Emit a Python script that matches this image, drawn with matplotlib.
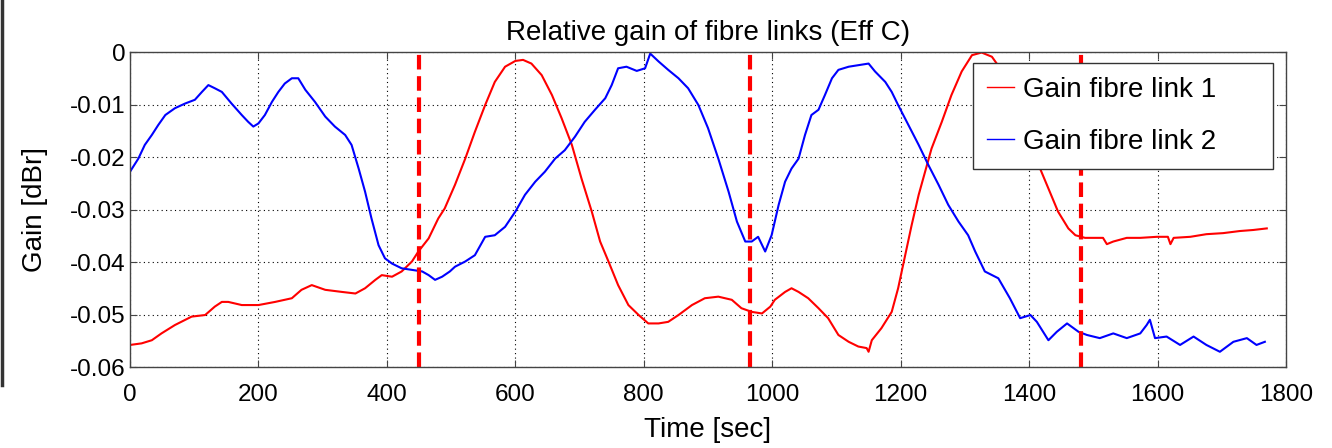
import matplotlib
matplotlib.use("Agg")
import matplotlib.pyplot as plt
from matplotlib.lines import Line2D

plt.rcParams["font.family"] = ["Liberation Sans", "DejaVu Sans"]

# time [sec] and gain [dBr]
t_link1 = [0, 18, 34, 49, 70, 96, 117, 132, 143, 153, 174, 200, 226, 252, 267, 283,
           304, 330, 351, 366, 382, 392, 408, 423, 439, 449, 465, 480, 490, 506, 522,
           537, 553, 568, 584, 600, 612, 625, 641, 657, 672, 688, 703, 719, 732, 745,
           760, 776, 792, 807, 823, 838, 854, 875, 895, 916, 937, 952, 968, 984, 997,
           1004, 1020, 1030, 1041, 1056, 1072, 1087, 1103, 1119, 1134, 1147, 1150,
           1155, 1170, 1186, 1196, 1207, 1217, 1228, 1238, 1248, 1264, 1279, 1295,
           1311, 1326, 1342, 1360, 1380, 1400, 1417, 1430, 1445, 1461, 1472, 1487,
           1503, 1515, 1521, 1531, 1552, 1573, 1599, 1616, 1620, 1625, 1651, 1676,
           1702, 1728, 1749, 1770]
g_link1 = [-0.0558, -0.0555, -0.0549, -0.0536, -0.0520, -0.0504, -0.0501, -0.0485,
           -0.0476, -0.0476, -0.0482, -0.0482, -0.0476, -0.0469, -0.0453, -0.0444,
           -0.0453, -0.0457, -0.0460, -0.0450, -0.0434, -0.0425, -0.0428, -0.0418,
           -0.0399, -0.0380, -0.0355, -0.0317, -0.0298, -0.0253, -0.0203, -0.0152,
           -0.0101, -0.0057, -0.0028, -0.0017, -0.0015, -0.0022, -0.0044, -0.0082,
           -0.0126, -0.0177, -0.0241, -0.0304, -0.0361, -0.0399, -0.0444, -0.0482,
           -0.0501, -0.0517, -0.0517, -0.0514, -0.0501, -0.0482, -0.0469, -0.0466,
           -0.0472, -0.0488, -0.0495, -0.0498, -0.0485, -0.0472, -0.0457, -0.0450,
           -0.0457, -0.0469, -0.0488, -0.0507, -0.0539, -0.0552, -0.0561, -0.0564,
           -0.0571, -0.0549, -0.0526, -0.0495, -0.0450, -0.0387, -0.0330, -0.0272,
           -0.0228, -0.0184, -0.0133, -0.0082, -0.0037, -0.0006, -0.0001, -0.0009,
           -0.0040, -0.0110, -0.0170, -0.0222, -0.0260, -0.0304, -0.0336, -0.0349,
           -0.0354, -0.0354, -0.0354, -0.0366, -0.0361, -0.0354, -0.0354, -0.0352,
           -0.0352, -0.0366, -0.0354, -0.0352, -0.0347, -0.0345, -0.0341, -0.0339,
           -0.0336]

t_link2 = [0, 13, 23, 34, 44, 55, 70, 86, 101, 112, 122, 132, 143, 158, 174, 184,
           192, 200, 210, 221, 231, 241, 252, 262, 273, 288, 304, 319, 335, 345, 356,
           366, 376, 387, 397, 408, 423, 439, 455, 465, 475, 486, 498, 506, 522, 537,
           553, 568, 584, 600, 615, 631, 646, 662, 677, 693, 708, 724, 740, 750, 760,
           773, 789, 802, 810, 823, 838, 854, 869, 885, 900, 916, 932, 945, 958, 968,
           978, 989, 999, 1010, 1020, 1030, 1041, 1051, 1061, 1072, 1082, 1093, 1103,
           1119, 1134, 1150, 1160, 1176, 1186, 1196, 1212, 1228, 1243, 1259, 1274,
           1290, 1305, 1316, 1331, 1352, 1370, 1386, 1402, 1412, 1430, 1443, 1459,
           1477, 1490, 1510, 1531, 1552, 1573, 1583, 1588, 1596, 1614, 1635, 1656,
           1676, 1697, 1718, 1739, 1754, 1767]
g_link2 = [-0.0228, -0.0203, -0.0177, -0.0158, -0.0139, -0.0120, -0.0107, -0.0098,
           -0.0091, -0.0076, -0.0063, -0.0069, -0.0076, -0.0098, -0.0120, -0.0133,
           -0.0142, -0.0136, -0.0120, -0.0095, -0.0076, -0.0060, -0.0050, -0.0050,
           -0.0072, -0.0095, -0.0123, -0.0142, -0.0158, -0.0177, -0.0222, -0.0266,
           -0.0317, -0.0368, -0.0393, -0.0403, -0.0412, -0.0415, -0.0418, -0.0425,
           -0.0434, -0.0428, -0.0418, -0.0409, -0.0399, -0.0387, -0.0352, -0.0349,
           -0.0333, -0.0304, -0.0272, -0.0247, -0.0228, -0.0203, -0.0187, -0.0161,
           -0.0133, -0.0110, -0.0088, -0.0063, -0.0031, -0.0028, -0.0036, -0.0031,
           -0.0003, -0.0018, -0.0034, -0.0050, -0.0069, -0.0101, -0.0145, -0.0203,
           -0.0266, -0.0323, -0.0361, -0.0361, -0.0352, -0.0380, -0.0349, -0.0291,
           -0.0247, -0.0222, -0.0203, -0.0158, -0.0120, -0.0110, -0.0082, -0.0050,
           -0.0034, -0.0028, -0.0025, -0.0022, -0.0037, -0.0057, -0.0076, -0.0101,
           -0.0139, -0.0177, -0.0215, -0.0253, -0.0291, -0.0323, -0.0349, -0.0380,
           -0.0418, -0.0431, -0.0469, -0.0507, -0.0501, -0.0514, -0.0549, -0.0533,
           -0.0517, -0.0533, -0.0539, -0.0545, -0.0536, -0.0545, -0.0536, -0.0520,
           -0.0510, -0.0545, -0.0542, -0.0558, -0.0542, -0.0558, -0.0571, -0.0552,
           -0.0545, -0.0558, -0.0552]

segment_marks = [450, 965, 1480]

fig = plt.figure(figsize=(13.32, 4.48), dpi=100)
ax = fig.add_axes([0.0976, 0.1808, 0.8679, 0.7031])

ax.plot(t_link1, g_link1, color="#ff0000", lw=1.5, label="Gain fibre link 1")
ax.plot(t_link2, g_link2, color="#0000ff", lw=1.5, label="Gain fibre link 2")
for tm in segment_marks:
    ax.axvline(tm, color="#ff0000", lw=3, ls=(0, (3.5, 1.6)))

ax.set_xlim(0, 1800)
ax.set_ylim(-0.06, 0)
ax.set_xticks(range(0, 1801, 200))
ax.set_yticks([-0.06, -0.05, -0.04, -0.03, -0.02, -0.01, 0])
ax.set_yticklabels(["-0.06", "-0.05", "-0.04", "-0.03", "-0.02", "-0.01", "0"])
ax.grid(True, color="black", ls=(0, (1, 3)), lw=0.8)
ax.tick_params(direction="in", top=True, right=True, length=5, labelsize=17.5,
               color="#444444")
ax.tick_params(axis="x", pad=12)
ax.tick_params(axis="y", pad=3)
for sp in ax.spines.values():
    sp.set_color("#444444")
    sp.set_linewidth(1.0)

ax.set_title("Relative gain of fibre links (Eff C)", fontsize=20, pad=9)
ax.set_xlabel("Time [sec]", fontsize=20, labelpad=8)
ax.set_ylabel("Gain [dBr]", fontsize=20, labelpad=16)

# MATLAB-style legend box: wide, entries left-aligned
leg = ax.legend(loc="upper left", bbox_to_anchor=(0.7292, 0.5, 0.2595, 0.465),
                mode="expand", fontsize=20, fancybox=False, framealpha=1,
                edgecolor="#333333", handlelength=1.0, handletextpad=0.3,
                borderpad=0.49, labelspacing=0.95, borderaxespad=0)
leg.get_frame().set_linewidth(1.0)
for h in leg.get_lines():
    h.set_linewidth(1.0)

# dark edge at the left of the screenshot
fig.add_artist(Line2D([0.0015, 0.0015], [1.0, 0.1406], color="#333333", lw=2.5,
                      transform=fig.transFigure))

fig.savefig("out.png", dpi=100)
